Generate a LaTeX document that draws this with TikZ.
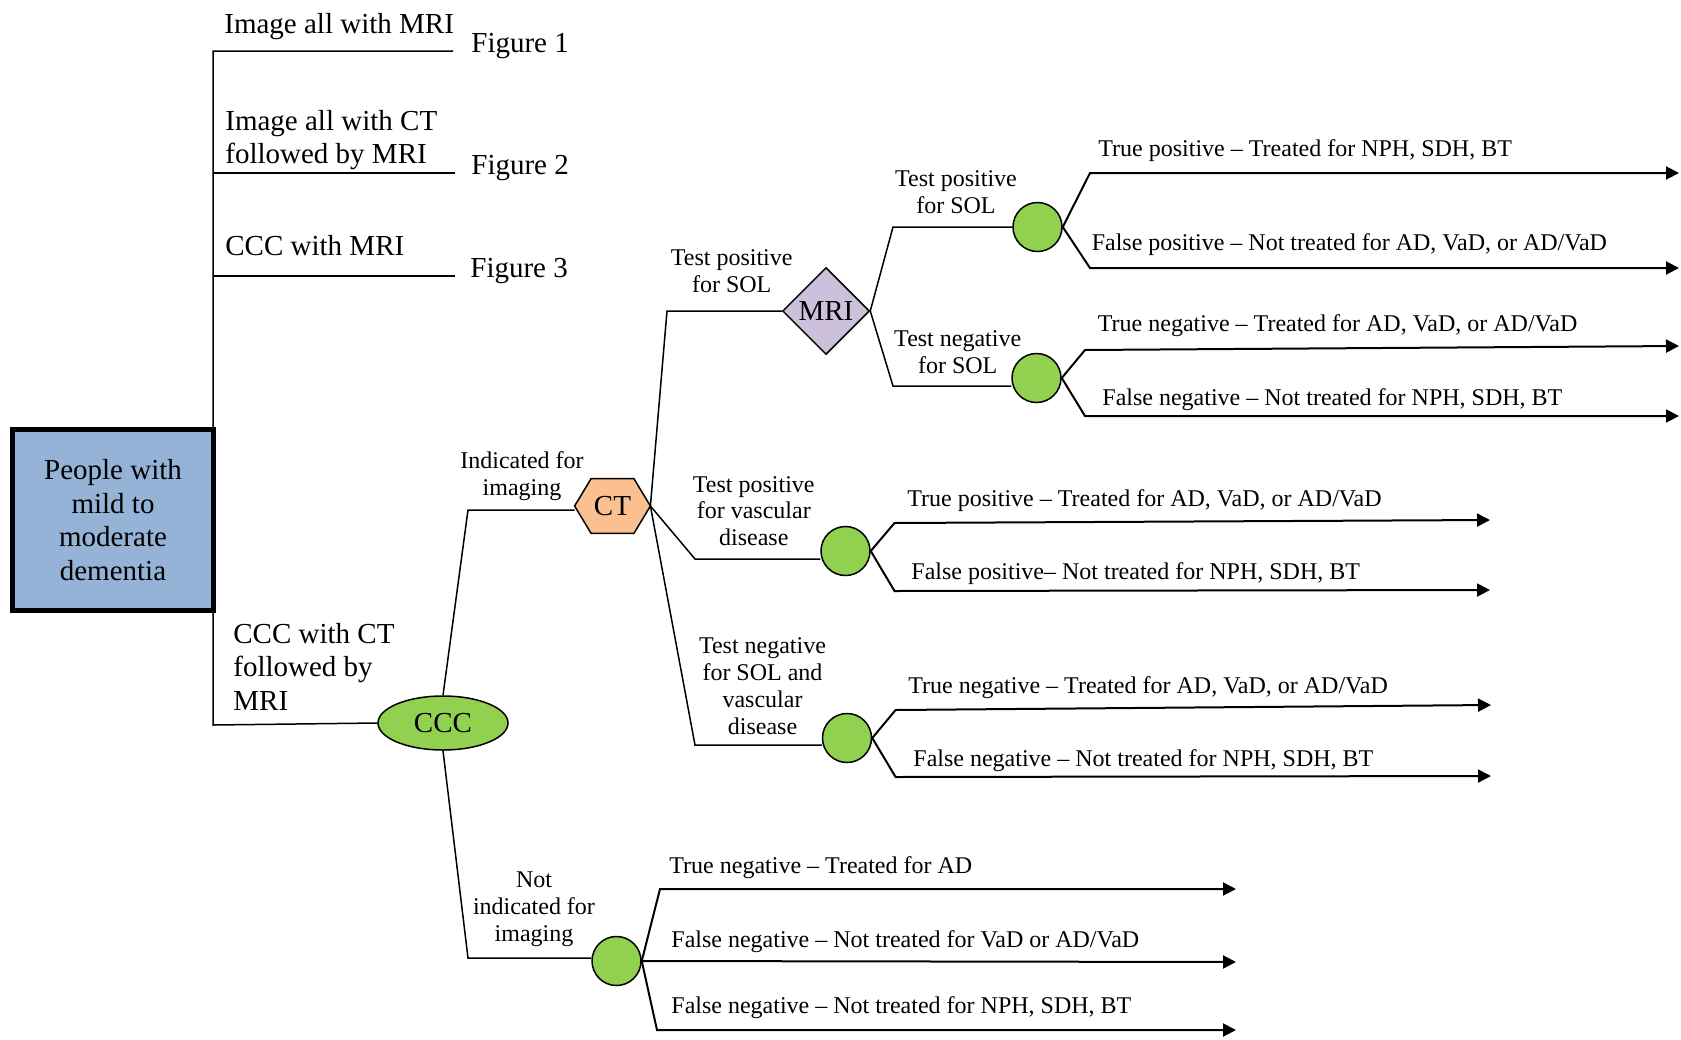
\documentclass[tikz,border=0pt]{standalone}
\usepackage{fontspec}
\setmainfont{Liberation Serif}
\usetikzlibrary{shapes.geometric,arrows.meta,backgrounds}

\definecolor{boxblue}{HTML}{95B3D7}
\definecolor{leafgreen}{HTML}{92D050}
\definecolor{mrililac}{HTML}{CCC0DA}
\definecolor{ctpeach}{HTML}{FAC090}

\begin{document}
\begin{tikzpicture}[x=0.5pt,y=-0.5pt,
  big/.style={font=\fontsize{14.5}{16.75}\selectfont, inner sep=0pt},
  small/.style={font=\fontsize{12}{13.5}\selectfont, inner sep=0pt},
  link/.style={line width=0.75pt},
  outcome/.style={line width=1pt, -{Triangle[length=6.5pt,width=6.5pt]}},
  chance/.style={circle, draw, line width=0.75pt, fill=leafgreen,
    minimum size=24.5pt, inner sep=0pt},
  startbox/.style={big, draw, line width=2.5pt, fill=boxblue, align=center,
    minimum width=100.85pt, minimum height=90.5pt},
  cccnode/.style={big, ellipse, draw, line width=0.75pt, fill=leafgreen,
    minimum width=65pt, minimum height=27pt},
  mrinode/.style={big, diamond, draw, line width=0.75pt, fill=mrililac,
    minimum width=43.5pt, minimum height=43.5pt},
  ctnode/.style={big, minimum width=37.5pt, minimum height=27pt},
  branchlabel/.style={small, align=center, anchor=north},
]
\useasboundingbox (0,0) rectangle (1681,1039);

% ---------- decision nodes ----------
\node[startbox] (pop) at (113,520) {People with\\mild to\\moderate\\dementia};
\node[cccnode] (CCC) at (443,723) {CCC};
\node[ctnode] (CT) at (612.5,506) {CT};
\node[mrinode] (MRI) at (826,311) {MRI};

% ---------- chance nodes ----------
\node[chance] (c1) at (1037.5,227) {};
\node[chance] (c2) at (1036.5,378) {};
\node[chance] (c3) at (845.5,551) {};
\node[chance] (c4) at (847,738) {};
\node[chance] (c5) at (616.5,961) {};

% ---------- strategy labels ----------
\node[big, anchor=base west] (s1) at (224,33) {Image all with MRI};
\node[big, anchor=base west] (g1) at (471,52) {Figure 1};
\node[big, anchor=north west, align=left] (s2) at (225,109.5) {Image all with CT\\followed by MRI};
\node[big, anchor=base west] (g2) at (471,174) {Figure 2};
\node[big, anchor=base west] (s3) at (225,255) {CCC with MRI};
\node[big, anchor=base west] (g3) at (470,277) {Figure 3};
\node[big, anchor=north west, align=left] (s4) at (233,622.5) {CCC with CT\\followed by\\MRI};

% ---------- branch labels ----------
\node[branchlabel] (lind) at (522,450.7) {Indicated for\\imaging};
\node[branchlabel] (lnot) at (534,871) {Not\\indicated for\\imaging};
\node[branchlabel] (lsol) at (731.7,249) {Test positive\\for SOL};
\node[branchlabel] (lvas) at (753.8,475.7) {Test positive\\for vascular\\disease};
\node[branchlabel] (lneg) at (762.5,637) {Test negative\\for SOL and\\vascular\\disease};
\node[branchlabel] (lmp) at (956,170.7) {Test positive\\for SOL};
\node[branchlabel] (lmn) at (957.7,330) {Test negative\\for SOL};

% ---------- outcome labels ----------
\node[small, anchor=base west] (o1) at (1098,156) {True positive – Treated for NPH, SDH, BT};
\node[small, anchor=base west] (o2) at (1091.4,250.7) {False positive – Not treated for AD, VaD, or AD/VaD};
\node[small, anchor=base west] (o3) at (1097.5,331.7) {True negative – Treated for AD, VaD, or AD/VaD};
\node[small, anchor=base west] (o4) at (1102,405) {False negative – Not treated for NPH, SDH, BT};
\node[small, anchor=base west] (o5) at (907,506.7) {True positive – Treated for AD, VaD, or AD/VaD};
\node[small, anchor=base west] (o6) at (911,579) {False positive– Not treated for NPH, SDH, BT};
\node[small, anchor=base west] (o7) at (908,693) {True negative – Treated for AD, VaD, or AD/VaD};
\node[small, anchor=base west] (o8) at (913,766) {False negative – Not treated for NPH, SDH, BT};
\node[small, anchor=base west] (o9) at (669,873) {True negative – Treated for AD};
\node[small, anchor=base west] (o10) at (671,947) {False negative – Not treated for VaD or AD/VaD};
\node[small, anchor=base west] (o11) at (671,1013) {False negative – Not treated for NPH, SDH, BT};

% ---------- free ends ----------
\coordinate (f1) at (453,51);
\coordinate (f2) at (455,173);
\coordinate (f3) at (455,276);
\coordinate (e1) at (1679,173);
\coordinate (e2) at (1679,268);
\coordinate (e3) at (1679,346);
\coordinate (e4) at (1679,416);
\coordinate (e5) at (1490,520);
\coordinate (e6) at (1490,590);
\coordinate (e7) at (1491,705);
\coordinate (e8) at (1491,776);
\coordinate (e9) at (1236,889);
\coordinate (e10) at (1236,962);
\coordinate (e11) at (1236,1030);

% ---------- connectors (behind the shapes) ----------
\begin{pgfonlayer}{background}
  \draw[link] (f1) -- (213,51) -- (213,725) -- (CCC.west);
  \draw[link] (213,173) -- (f2);
  \draw[link] (213,276) -- (f3);
  \draw[link] (CCC.north) -- (468,510) -- (CT.west |- 0,510);
  \draw[link] (CCC.south) -- (468,958) -- (c5.west |- 0,958);
  \draw[link] (CT.east) -- (667,311) -- (MRI.west);
  \draw[link] (CT.east) -- (695,559) -- (c3.west |- 0,559);
  \draw[link] (CT.east) -- (695,745) -- (c4.west |- 0,745);
  \draw[link] (MRI.east) -- (893,227) -- (c1.west);
  \draw[link] (MRI.east) -- (893,386) -- (c2.west |- 0,386);
  % CT hexagon
  \draw[line width=0.75pt, fill=ctpeach]
    (CT.west) -- ([xshift=8.25pt]CT.north west) -- ([xshift=-8.25pt]CT.north east)
    -- (CT.east) -- ([xshift=-8.25pt]CT.south east) -- ([xshift=8.25pt]CT.south west)
    -- cycle;
\end{pgfonlayer}

% ---------- outcome arrows ----------
\draw[outcome] (c1.east) -- (1090,173) -- (e1);
\draw[outcome] (c1.east) -- (1090,268) -- (e2);
\draw[outcome] (c2.east) -- (1085,350) -- (e3);
\draw[outcome] (c2.east) -- (1085,416) -- (e4);
\draw[outcome] (c3.east) -- (894.5,523) -- (e5);
\draw[outcome] (c3.east) -- (894.5,591) -- (e6);
\draw[outcome] (c4.east) -- (895.6,710) -- (e7);
\draw[outcome] (c4.east) -- (895.6,777) -- (e8);
\draw[outcome] (c5.east) -- (660,889) -- (e9);
\draw[outcome] (c5.east) -- (e10);
\draw[outcome] (c5.east) -- (657,1030) -- (e11);
\end{tikzpicture}
\end{document}
